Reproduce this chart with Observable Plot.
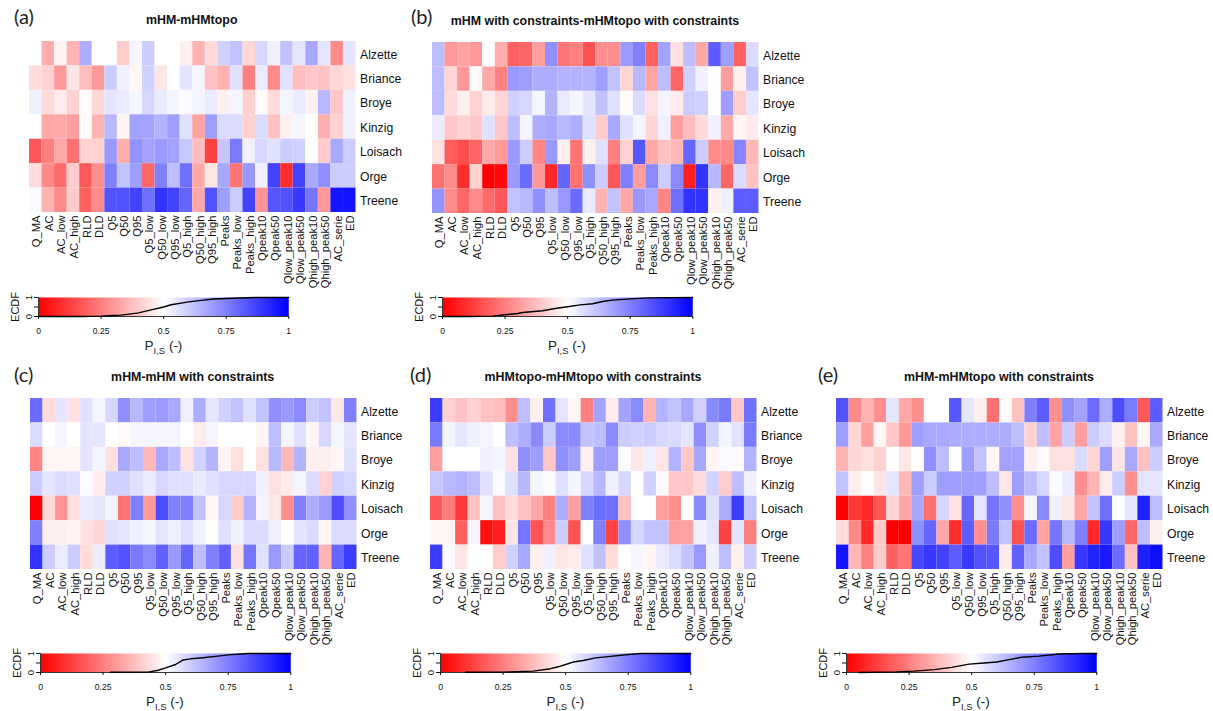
<!DOCTYPE html>
<html>
<head>
<meta charset="utf-8">
<script src="https://cdn.jsdelivr.net/npm/d3@7"></script>
<script src="https://cdn.jsdelivr.net/npm/@observablehq/plot@0.6"></script>
<style>
  html, body { margin: 0; padding: 0; background: #fff; }
  #page { position: relative; width: 1213px; height: 711px; overflow: hidden; font-family: "Liberation Sans", Arial, sans-serif; color: #000; }
  #page > * { position: absolute; }
  #page svg { background: transparent; overflow: visible; }
  .tag { font-family: Lato, sans-serif; font-size: 20px; line-height: 20px; color: #222; }
  .ttl { font-weight: bold; font-size: 12.4px; line-height: 14px; transform: translateX(-50%); white-space: nowrap; color: #111; }
  .xl { font-size: 13.5px; line-height: 16px; transform: translateX(-50%); white-space: nowrap; color: #222; }
  .xl sub { font-size: 9.5px; line-height: 0; }
</style>
</head>
<body>
<div id="page"></div>
<script>
const stations = ["Alzette","Briance","Broye","Kinzig","Loisach","Orge","Treene"];
const metrics = ["Q_MA","AC","AC_low","AC_high","RLD","DLD","Q5","Q50","Q95","Q5_low","Q50_low","Q95_low","Q5_high","Q50_high","Q95_high","Peaks","Peaks_low","Peaks_high","Qpeak10","Qpeak50","Qlow_peak10","Qlow_peak50","Qhigh_peak10","Qhigh_peak50","AC_serie","ED"];
const colorTicks = [0, 0.25, 0.5, 0.75, 1];
const ecdfTicks = [0, 0.5, 1];

// P(I,S) in percent, one row per station
const panelA = [
 [50,34,48,35,66,50,50,40,52,60,50,50,47,35,43,59,62,42,58,53,62,55,67,55,27,55],
 [43,41,30,45,37,30,60,53,48,59,45,50,55,52,38,35,56,25,54,27,56,37,39,38,42,44],
 [53,43,46,41,49,42,55,54,52,58,54,52,51,52,54,47,52,41,49,43,52,54,47,64,39,53],
 [50,33,33,31,49,35,64,48,68,68,65,69,56,32,69,57,57,41,57,38,47,52,50,34,41,53],
 [17,25,33,22,41,41,70,34,71,68,70,68,61,37,13,61,76,53,58,56,60,59,50,40,67,60],
 [43,27,21,40,17,28,75,62,69,20,75,63,78,33,45,67,23,70,53,87,9,87,67,72,60,60],
 [51,35,27,40,19,27,84,84,87,78,90,87,80,33,84,69,60,87,29,83,84,89,77,30,96,96]
];
const panelB = [
 [63,30,32,30,50,34,19,20,31,72,23,25,16,28,28,70,75,19,68,44,63,33,82,69,19,57],
 [63,42,30,49,33,25,70,69,66,66,65,65,65,69,62,42,64,32,63,20,59,53,50,31,47,62],
 [63,43,47,41,46,42,59,58,52,65,54,52,55,62,56,49,57,44,52,46,60,59,50,69,40,55],
 [54,39,41,39,56,39,63,52,66,67,64,66,56,40,67,56,52,42,53,31,37,43,53,33,48,46],
 [44,18,15,20,33,30,70,60,26,70,47,23,47,56,25,41,83,33,38,36,80,60,27,27,74,36],
 [22,27,9,41,0,2,70,79,30,8,80,22,72,60,17,75,31,73,60,73,6,90,64,20,57,38],
 [71,27,20,27,21,17,62,64,72,63,70,79,54,35,62,33,70,67,26,78,90,90,47,53,82,82]
];
const panelC = [
 [79,43,55,44,56,52,58,72,64,69,70,67,53,66,55,59,62,56,62,72,70,73,60,62,45,75],
 [57,50,52,50,55,55,50,49,52,52,52,52,50,46,52,50,50,50,48,63,52,56,48,58,52,55],
 [26,48,48,48,55,52,44,67,63,36,67,63,44,59,65,48,44,50,44,64,36,65,47,47,48,56],
 [60,55,57,56,51,46,59,59,56,54,58,56,56,54,56,58,58,58,53,44,46,52,57,41,59,58],
 [0,42,29,44,54,55,52,23,75,30,85,75,75,62,48,58,40,65,52,45,28,75,66,70,85,72],
 [75,47,47,48,44,42,56,55,53,52,55,53,56,53,50,56,53,57,57,53,50,55,57,48,57,57],
 [90,60,54,60,43,54,82,84,76,73,81,70,80,63,75,81,44,77,56,70,60,80,81,35,80,88]
];
const panelD = [
 [88,41,38,41,38,37,28,63,47,78,55,48,25,68,46,68,73,35,65,62,67,59,73,76,39,78],
 [76,52,55,53,52,50,63,66,73,60,73,73,62,63,73,60,59,60,58,57,55,72,59,52,56,76],
 [31,50,50,50,53,52,44,72,69,39,72,69,47,69,69,51,45,53,45,65,39,67,48,51,49,65],
 [61,64,65,63,56,51,56,64,52,51,56,52,58,64,53,58,50,59,49,39,39,43,59,40,63,53],
 [17,24,11,38,52,38,43,38,33,25,66,31,75,79,78,38,50,50,31,28,50,73,56,66,88,62],
 [48,48,19,52,3,6,45,77,16,27,60,16,50,75,13,72,58,62,62,31,32,53,55,13,55,25],
 [88,51,45,50,50,40,59,67,47,53,45,46,56,62,43,50,52,48,54,57,62,70,53,63,47,60]
];
const panelE = [
 [84,27,35,28,55,33,28,50,50,83,55,47,22,49,38,75,82,28,72,68,79,66,85,76,17,82],
 [69,42,31,48,39,30,69,67,67,66,66,66,66,66,63,41,63,32,60,31,60,57,47,38,48,67],
 [35,42,44,41,50,45,50,72,63,50,69,62,48,68,68,47,49,44,44,57,42,69,45,67,38,60],
 [62,47,50,45,55,36,69,60,69,69,69,69,63,45,69,63,58,51,54,28,35,46,60,28,55,55],
 [0,11,8,17,42,33,67,22,58,44,80,55,77,72,28,52,73,53,45,32,62,78,50,55,94,63],
 [43,27,8,40,0,0,72,80,33,9,82,28,76,62,16,79,32,77,64,75,8,89,69,20,63,47],
 [96,36,25,40,19,23,86,89,87,82,89,84,83,46,81,67,62,85,31,89,93,95,79,38,94,97]
];

// ECDF curves under the colour bars
const ecdfAx = [0,0.18,0.2,0.25,0.3,0.33,0.4,0.45,0.5,0.53,0.6,0.65,0.7,0.8,0.87,1];
const ecdfAy = [0,0,0.005,0.02,0.05,0.07,0.19,0.35,0.5,0.62,0.77,0.85,0.92,0.97,1,1];
const ecdfBx = [0,0.1,0.2,0.25,0.3,0.32,0.4,0.45,0.5,0.55,0.6,0.64,0.68,0.75,0.82,1];
const ecdfBy = [0,0,0.02,0.09,0.16,0.21,0.3,0.42,0.51,0.61,0.67,0.79,0.86,0.93,0.98,1];
const ecdfCx = [0.28,0.43,0.47,0.5,0.54,0.57,0.6,0.65,0.7,0.75,0.8,0.83,1];
const ecdfCy = [0.01,0.02,0.12,0.24,0.42,0.66,0.72,0.78,0.85,0.93,0.97,1,1];
const ecdfDx = [0.1,0.25,0.37,0.44,0.47,0.5,0.53,0.57,0.62,0.68,0.75,0.8,1];
const ecdfDy = [0.01,0.02,0.07,0.2,0.3,0.42,0.55,0.63,0.77,0.85,0.95,1,1];
const ecdfEx = [0.05,0.2,0.27,0.35,0.42,0.49,0.55,0.6,0.65,0.7,0.77,0.85,0.95,1];
const ecdfEy = [0,0.03,0.07,0.15,0.27,0.44,0.5,0.55,0.68,0.8,0.86,0.97,1,1];

const panels = [
 {tag:"(a)", title:"mHM-mHMtopo", rows:panelA, ex:ecdfAx, ey:ecdfAy, tagX:14, tagY:6, titleX:191.7, titleY:13, left:28.5, top:41, barLeft:38.3, barTop:297},
 {tag:"(b)", title:"mHM with constraints-mHMtopo with constraints", rows:panelB, ex:ecdfBx, ey:ecdfBy, tagX:411, tagY:6, titleX:595, titleY:14, left:432, top:42, barLeft:441.7, barTop:297},
 {tag:"(c)", title:"mHM-mHM with constraints", rows:panelC, ex:ecdfCx, ey:ecdfCy, tagX:14, tagY:364, titleX:192.7, titleY:370, left:29.7, top:398, barLeft:39.7, barTop:653},
 {tag:"(d)", title:"mHMtopo-mHMtopo with constraints", rows:panelD, ex:ecdfDx, ey:ecdfDy, tagX:410, tagY:364, titleX:593, titleY:370, left:430.3, top:398, barLeft:440.3, barTop:653},
 {tag:"(e)", title:"mHM-mHMtopo with constraints", rows:panelE, ex:ecdfEx, ey:ecdfEy, tagX:818, tagY:364, titleX:999, titleY:370, left:836, top:398, barLeft:845.7, barTop:653}
];

const page = document.getElementById("page");
const colorScale = {type:"linear", domain:[0,0.5,1], range:["#ff0000","#ffffff","#0000ff"], interpolate:"rgb"};
const fontStack = '"Liberation Sans", Arial, sans-serif';

function place(el, x, y) { el.style.left = x + "px"; el.style.top = y + "px"; page.appendChild(el); }
function label(cls, html, x, y) { const d = document.createElement("div"); d.className = cls; d.innerHTML = html; place(d, x, y); }

for (const p of panels) {
  const cells = p.rows.flatMap((row, i) => row.map((v, j) => ({station: stations[i], metric: metrics[j], value: v / 100})));
  const frameW = 326.5, frameH = 171;
  const heat = Plot.plot({
    width: frameW + 70, height: frameH + 95,
    marginLeft: 0, marginTop: 0, marginRight: 70, marginBottom: 95,
    style: {fontFamily: fontStack, background: "transparent", color: "#111"},
    x: {domain: metrics, padding: 0, round: false, label: null},
    y: {domain: stations, padding: 0, round: false, label: null},
    color: colorScale,
    marks: [
      Plot.cell(cells, {x: "metric", y: "station", fill: "value"}),
      Plot.axisX({anchor: "bottom", tickRotate: -90, tickSize: 0, tickPadding: 3, fontSize: 11.2, dx: 1, label: null}),
      Plot.axisY({anchor: "right", tickSize: 0, tickPadding: 4, fontSize: 12.2, dy: 1, label: null})
    ]
  });
  place(heat, p.left, p.top);

  const barW = 250.3, barH = 19;
  const bar = Plot.plot({
    width: barW + 40 + 14, height: barH + 30,
    marginLeft: 40, marginRight: 14, marginTop: 0, marginBottom: 30,
    style: {fontFamily: fontStack, background: "transparent", color: "#111"},
    x: {domain: [0, 1], label: null},
    y: {domain: [0, 1], label: null},
    color: colorScale,
    marks: [
      Plot.raster({fill: (x) => x, x1: 0, x2: 1, y1: 0, y2: 1, pixelSize: 1}),
      Plot.ruleY([0], {stroke: "#333", strokeWidth: 1}),
      Plot.ruleX([0], {stroke: "#333", strokeWidth: 1}),
      Plot.line(p.ex.map((x, i) => ({x, y: p.ey[i]})), {x: "x", y: "y", stroke: "#000", strokeWidth: 1.4}),
      Plot.axisX({anchor: "bottom", ticks: colorTicks, tickFormat: (d) => String(d), tickSize: 3, tickPadding: 8, fontSize: 8.6, label: null}),
      Plot.axisY({anchor: "left", ticks: ecdfTicks, tickFormat: (d) => d === 0.5 ? "" : String(d), tickSize: 4, tickPadding: 3, tickRotate: -90, fontSize: 9.5, label: null}),
      Plot.axisY({anchor: "left", ticks: [], tickSize: 0, fontSize: 11, label: "ECDF", labelAnchor: "center", labelArrow: "none", labelOffset: 27})
    ]
  });
  place(bar, p.barLeft - 40, p.barTop);

  label("tag", p.tag, p.tagX, p.tagY);
  label("ttl", p.title, p.titleX, p.titleY);
  label("xl", 'P<sub>I,S</sub> (-)', p.barLeft + barW / 2, p.barTop + 41);
}
</script>
</body>
</html>
